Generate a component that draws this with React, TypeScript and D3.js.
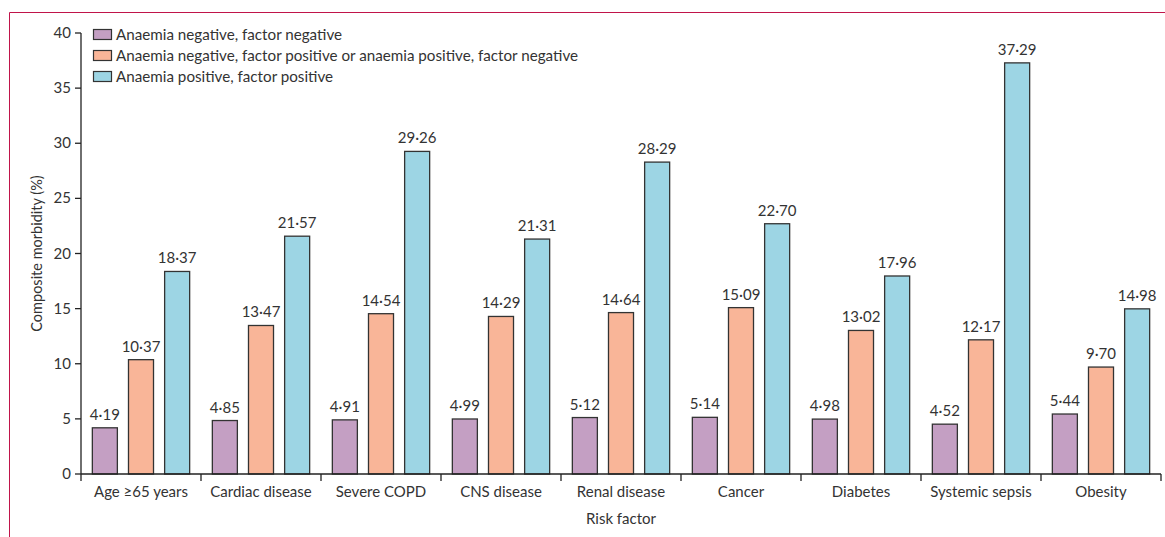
import React from "react";
import * as d3 from "d3";

const categories = ["Age ≥65 years", "Cardiac disease", "Severe COPD", "CNS disease", "Renal disease", "Cancer", "Diabetes", "Systemic sepsis", "Obesity"];
const seriesNames = [
  "Anaemia negative, factor negative",
  "Anaemia negative, factor positive or anaemia positive, factor negative",
  "Anaemia positive, factor positive",
];
const negNeg = [4.19, 4.85, 4.91, 4.99, 5.12, 5.14, 4.98, 4.52, 5.44];
const mixed = [10.37, 13.47, 14.54, 14.29, 14.64, 15.09, 13.02, 12.17, 9.7];
const posPos = [18.37, 21.57, 29.26, 21.31, 28.29, 22.7, 17.96, 37.29, 14.98];
const yTicks = [0, 5, 10, 15, 20, 25, 30, 35, 40];
const colors = ["#c49fc3", "#f9b598", "#9dd5e4"];

const fmt = (v: number) => v.toFixed(2).replace(".", "·");

export default function App() {
  const W = 1165, H = 537;
  const left = 81, right = 1161, top = 33, bottom = 474;
  const font = "Lato, 'Open Sans', sans-serif";
  const textCol = "#333";
  const fs = 15;
  const x0 = d3.scaleBand<string>().domain(categories).range([left, right]).paddingInner(0).paddingOuter(0);
  const x1 = d3.scaleBand<number>().domain([0, 1, 2]).range([0, x0.bandwidth()]).paddingInner(0.28).paddingOuter(0.3);
  const y = d3.scaleLinear().domain([0, 40]).range([bottom, top]);
  const series = [negNeg, mixed, posPos];

  return (
    <svg width={W} height={H} style={{ position: "absolute", left: 0, top: 0 }} fontFamily={font}>
      <rect x={0} y={0} width={W} height={H} fill="#fff" />
      {/* frame */}
      <line x1={9.5} y1={12.5} x2={W} y2={12.5} stroke="#c0144a" strokeWidth={1} />
      <line x1={9.5} y1={12.5} x2={9.5} y2={H} stroke="#c0144a" strokeWidth={1} />

      {/* bars */}
      {categories.map((c, i) => (
        <g key={c}>
          {series.map((s, k) => {
            const bx = (x0(c) as number) + (x1(k) as number);
            const bw = x1.bandwidth();
            return (
              <g key={k}>
                <rect x={bx + 0.5} y={y(s[i])} width={bw - 1} height={bottom - y(s[i])} fill={colors[k]} stroke="#333" strokeWidth={1.3} />
                <text x={bx + bw / 2} y={y(s[i]) - 8} textAnchor="middle" fontSize={fs} fill={textCol}>{fmt(s[i])}</text>
              </g>
            );
          })}
          <text x={(x0(c) as number) + x0.bandwidth() / 2} y={497} textAnchor="middle" fontSize={fs} fill={textCol}>{c}</text>
        </g>
      ))}

      {/* y axis */}
      <line x1={left} y1={top} x2={left} y2={bottom} stroke="#222" strokeWidth={1.3} />
      {yTicks.map((t) => (
        <g key={t}>
          <line x1={left - 6} y1={y(t)} x2={left} y2={y(t)} stroke="#222" strokeWidth={1.3} />
          <text x={left - 10} y={y(t) + 5} textAnchor="end" fontSize={fs} fill={textCol}>{t}</text>
        </g>
      ))}
      {/* x axis */}
      <line x1={left} y1={bottom} x2={right} y2={bottom} stroke="#222" strokeWidth={1.3} />
      {categories.concat(["end"]).map((c, i) => {
        const xx = left + i * x0.bandwidth();
        return <line key={i} x1={xx} y1={bottom} x2={xx} y2={bottom + 7} stroke="#222" strokeWidth={1.3} />;
      })}

      <text transform={`translate(42,${(top + bottom) / 2}) rotate(-90)`} textAnchor="middle" fontSize={14.5} fill={textCol}>Composite morbidity (%)</text>
      <text x={(left + right) / 2} y={524} textAnchor="middle" fontSize={fs} fill={textCol}>Risk factor</text>

      {/* legend */}
      {seriesNames.map((n, k) => (
        <g key={n}>
          <rect x={93.5} y={29.5 + k * 21} width={18} height={10} fill={colors[k]} stroke="#333" strokeWidth={1.2} />
          <text x={116} y={40 + k * 21} fontSize={15.2} fill={textCol}>{n}</text>
        </g>
      ))}
    </svg>
  );
}
